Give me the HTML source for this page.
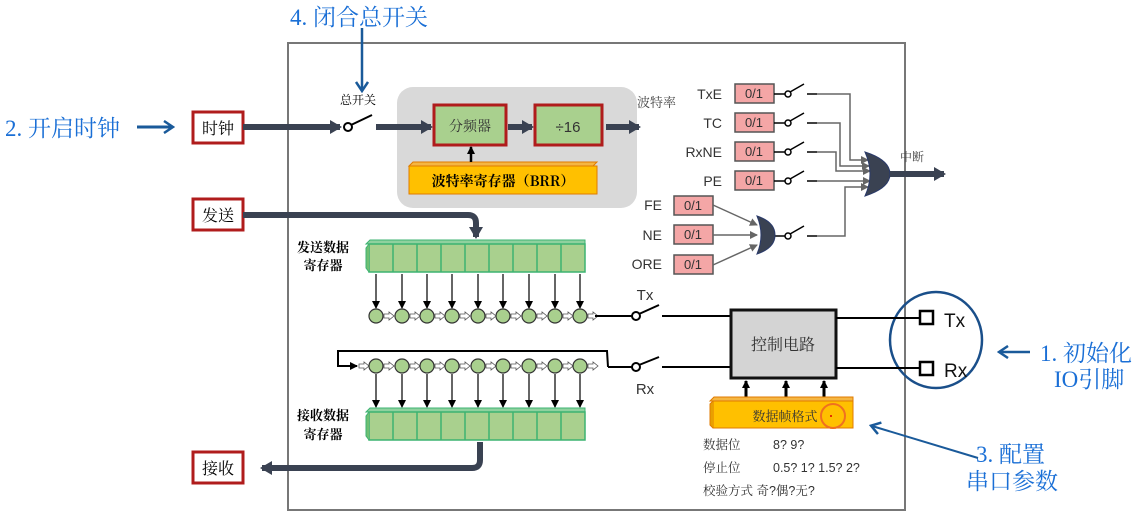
<!DOCTYPE html>
<html><head><meta charset="utf-8"><style>
body{margin:0;background:#fff}
svg{display:block}
text{font-family:"Liberation Sans","Noto Serif CJK SC","Noto Sans CJK SC",sans-serif}
.cn{font-family:"Noto Serif CJK SC","Noto Sans CJK SC",serif}
.blue{fill:#1a6fd6;font-family:"Liberation Serif","Noto Serif CJK SC",serif;font-size:23px}
</style></head><body>
<svg width="1140" height="519" viewBox="0 0 1140 519" xmlns="http://www.w3.org/2000/svg">
<defs>
<marker id="ab" markerWidth="12" markerHeight="14" refX="10" refY="7" orient="auto" markerUnits="userSpaceOnUse"><path d="M0,0 L12,7 L0,14 z" fill="#3a4252"/></marker>
<marker id="ak" markerWidth="8" markerHeight="8" refX="7" refY="4" orient="auto" markerUnits="userSpaceOnUse"><path d="M0,0 L8,4 L0,8 z" fill="#000"/></marker>
<marker id="ag" markerWidth="8" markerHeight="8" refX="7" refY="4" orient="auto" markerUnits="userSpaceOnUse"><path d="M0,0 L8,4 L0,8 z" fill="#666"/></marker>
<marker id="abl" markerWidth="12" markerHeight="14" refX="9" refY="7" orient="auto" markerUnits="userSpaceOnUse"><path d="M1,1 L10,7 L1,13" fill="none" stroke="#1a5a9a" stroke-width="2.5"/></marker>
</defs>

<rect x="288" y="43" width="617" height="467" fill="none" stroke="#777" stroke-width="2"/>

<text x="290" y="25" class="blue">4. 闭合总开关</text>
<path d="M362,28 L362,90" stroke="#1a5a9a" stroke-width="2.5" fill="none" marker-end="url(#abl)"/>
<text x="5" y="136" class="blue">2. 开启时钟</text>
<path d="M137,127 L172,127" stroke="#1a5a9a" stroke-width="3" fill="none" marker-end="url(#abl)"/>
<text x="1040" y="361" class="blue">1. 初始化</text>
<text x="1054" y="387" class="blue">IO引脚</text>
<path d="M1030,352 L1000,352" stroke="#1a5a9a" stroke-width="2.5" fill="none" marker-end="url(#abl)"/>
<ellipse cx="936" cy="340" rx="46" ry="48" fill="none" stroke="#1a4f8a" stroke-width="2.5"/>
<text x="976" y="462" class="blue">3. 配置</text>
<text x="966" y="489" class="blue">串口参数</text>
<path d="M978,458 L872,426" stroke="#1a5a9a" stroke-width="2" fill="none" marker-end="url(#abl)"/>

<rect x="193" y="112" width="50" height="31" fill="#fff" stroke="#b01c1c" stroke-width="3"/>
<text x="218" y="134" text-anchor="middle" font-size="16" class="cn">时钟</text>
<rect x="193" y="199" width="50" height="31" fill="#fff" stroke="#b01c1c" stroke-width="3"/>
<text x="218" y="221" text-anchor="middle" font-size="16" class="cn">发送</text>
<rect x="193" y="452" width="50" height="31" fill="#fff" stroke="#b01c1c" stroke-width="3"/>
<text x="218" y="474" text-anchor="middle" font-size="16" class="cn">接收</text>

<path d="M243,127 L340,127" stroke="#3a4252" stroke-width="6" fill="none" marker-end="url(#ab)"/>
<circle cx="348" cy="127" r="4" fill="#fff" stroke="#000" stroke-width="2"/>
<line x1="351" y1="125" x2="372" y2="115" stroke="#000" stroke-width="2"/>
<text x="358" y="104" text-anchor="middle" font-size="12" class="cn">总开关</text>
<rect x="397" y="87" width="240" height="121" rx="16" fill="#d9d9d9"/>
<path d="M376,127 L431,127" stroke="#3a4252" stroke-width="6" fill="none" marker-end="url(#ab)"/>
<rect x="434" y="105" width="72" height="40" fill="#a9d08e" stroke="#b01c1c" stroke-width="3"/>
<text x="470" y="131" text-anchor="middle" font-size="14" class="cn" fill="#333">分频器</text>
<path d="M508,127 L532,127" stroke="#3a4252" stroke-width="6" fill="none" marker-end="url(#ab)"/>
<rect x="535" y="105" width="67" height="40" fill="#a9d08e" stroke="#b01c1c" stroke-width="3"/>
<text x="568" y="132" text-anchor="middle" font-size="15" fill="#333">÷16</text>
<path d="M606,127 L639,127" stroke="#3a4252" stroke-width="6" fill="none" marker-end="url(#ab)"/>
<text x="637" y="107" font-size="13" class="cn" fill="#444">波特率</text>
<path d="M409,166 L413,162 L597,162 L593,166 z" fill="#f5b642" stroke="#e07b00"/>
<rect x="409" y="166" width="188" height="28" fill="#ffc000" stroke="#e07b00"/>
<text x="503" y="186" text-anchor="middle" font-size="14" font-weight="bold" class="cn">波特率寄存器（BRR）</text>
<line x1="471" y1="162" x2="471" y2="147" stroke="#000" stroke-width="2.5" marker-end="url(#ak)"/>

<path d="M243,215 L468,215 Q476,215 476,223 L476,237" stroke="#3a4252" stroke-width="6" fill="none" marker-end="url(#ab)"/>
<text x="323" y="252" text-anchor="middle" font-size="13" font-weight="bold" class="cn">发送数据</text>
<text x="323" y="270" text-anchor="middle" font-size="13" font-weight="bold" class="cn">寄存器</text>
<path d="M366,244 L370,240 L585,240 L585,244 z" fill="#8fd19e" stroke="#3cb371"/>
<rect x="369" y="244" width="216" height="28" fill="#a9d08e" stroke="#3cb371" stroke-width="1.5"/>
<path d="M369,244 L366,248 L366,268 L369,272" fill="#6fbf73" stroke="#3cb371"/>
<g stroke="#3cb371" stroke-width="1.5">
<line x1="393" y1="244" x2="393" y2="272"/><line x1="417" y1="244" x2="417" y2="272"/><line x1="441" y1="244" x2="441" y2="272"/><line x1="465" y1="244" x2="465" y2="272"/><line x1="489" y1="244" x2="489" y2="272"/><line x1="513" y1="244" x2="513" y2="272"/><line x1="537" y1="244" x2="537" y2="272"/><line x1="561" y1="244" x2="561" y2="272"/>
</g>
<g stroke="#000" stroke-width="1.2" marker-end="url(#ak)">
<line x1="376" y1="274" x2="376" y2="308"/><line x1="402" y1="274" x2="402" y2="308"/><line x1="427" y1="274" x2="427" y2="308"/><line x1="452" y1="274" x2="452" y2="308"/><line x1="478" y1="274" x2="478" y2="308"/><line x1="503" y1="274" x2="503" y2="308"/><line x1="529" y1="274" x2="529" y2="308"/><line x1="555" y1="274" x2="555" y2="308"/><line x1="580" y1="274" x2="580" y2="308"/>
</g>
<g fill="#a9d08e" stroke="#333" stroke-width="1.2">
<circle cx="376" cy="316" r="7"/><circle cx="402" cy="316" r="7"/><circle cx="427" cy="316" r="7"/><circle cx="452" cy="316" r="7"/><circle cx="478" cy="316" r="7"/><circle cx="503" cy="316" r="7"/><circle cx="529" cy="316" r="7"/><circle cx="555" cy="316" r="7"/><circle cx="580" cy="316" r="7"/>
</g>
<g fill="#fff" stroke="#555" stroke-width="0.8">
<path d="M384,314 h5 v-2 l5,4 l-5,4 v-2 h-5z"/><path d="M410,314 h5 v-2 l5,4 l-5,4 v-2 h-5z"/><path d="M435,314 h5 v-2 l5,4 l-5,4 v-2 h-5z"/><path d="M460,314 h5 v-2 l5,4 l-5,4 v-2 h-5z"/><path d="M486,314 h5 v-2 l5,4 l-5,4 v-2 h-5z"/><path d="M511,314 h5 v-2 l5,4 l-5,4 v-2 h-5z"/><path d="M537,314 h5 v-2 l5,4 l-5,4 v-2 h-5z"/><path d="M563,314 h5 v-2 l5,4 l-5,4 v-2 h-5z"/><path d="M588,314 h5 v-2 l5,4 l-5,4 v-2 h-5z"/>
</g>
<line x1="595" y1="316" x2="632" y2="316" stroke="#000" stroke-width="2"/>
<circle cx="636" cy="316" r="4" fill="#fff" stroke="#000" stroke-width="2"/>
<line x1="639" y1="314" x2="659" y2="305" stroke="#000" stroke-width="2"/>
<line x1="662" y1="316" x2="730" y2="316" stroke="#000" stroke-width="2"/>
<text x="645" y="300" text-anchor="middle" font-size="15" fill="#333">Tx</text>

<path d="M608,367 L607,351 L338,351 L338,366 L357,366" stroke="#000" stroke-width="2" fill="none" marker-end="url(#ak)"/>
<line x1="608" y1="367" x2="632" y2="367" stroke="#000" stroke-width="2"/>
<circle cx="636" cy="367" r="4" fill="#fff" stroke="#000" stroke-width="2"/>
<line x1="639" y1="365" x2="659" y2="357" stroke="#000" stroke-width="2"/>
<line x1="662" y1="367" x2="730" y2="367" stroke="#000" stroke-width="2"/>
<text x="645" y="394" text-anchor="middle" font-size="15" fill="#333">Rx</text>
<g fill="#fff" stroke="#555" stroke-width="0.8">
<path d="M359,364 h5 v-2 l5,4 l-5,4 v-2 h-5z"/><path d="M384,364 h5 v-2 l5,4 l-5,4 v-2 h-5z"/><path d="M410,364 h5 v-2 l5,4 l-5,4 v-2 h-5z"/><path d="M435,364 h5 v-2 l5,4 l-5,4 v-2 h-5z"/><path d="M460,364 h5 v-2 l5,4 l-5,4 v-2 h-5z"/><path d="M486,364 h5 v-2 l5,4 l-5,4 v-2 h-5z"/><path d="M511,364 h5 v-2 l5,4 l-5,4 v-2 h-5z"/><path d="M537,364 h5 v-2 l5,4 l-5,4 v-2 h-5z"/><path d="M563,364 h5 v-2 l5,4 l-5,4 v-2 h-5z"/><path d="M588,364 h5 v-2 l5,4 l-5,4 v-2 h-5z"/>
</g>
<g fill="#a9d08e" stroke="#333" stroke-width="1.2">
<circle cx="376" cy="366" r="7"/><circle cx="402" cy="366" r="7"/><circle cx="427" cy="366" r="7"/><circle cx="452" cy="366" r="7"/><circle cx="478" cy="366" r="7"/><circle cx="503" cy="366" r="7"/><circle cx="529" cy="366" r="7"/><circle cx="555" cy="366" r="7"/><circle cx="580" cy="366" r="7"/>
</g>
<g stroke="#000" stroke-width="1.2" marker-end="url(#ak)">
<line x1="376" y1="374" x2="376" y2="407"/><line x1="402" y1="374" x2="402" y2="407"/><line x1="427" y1="374" x2="427" y2="407"/><line x1="452" y1="374" x2="452" y2="407"/><line x1="478" y1="374" x2="478" y2="407"/><line x1="503" y1="374" x2="503" y2="407"/><line x1="529" y1="374" x2="529" y2="407"/><line x1="555" y1="374" x2="555" y2="407"/><line x1="580" y1="374" x2="580" y2="407"/>
</g>
<path d="M366,412 L370,408 L585,408 L585,412 z" fill="#8fd19e" stroke="#3cb371"/>
<rect x="369" y="412" width="216" height="28" fill="#a9d08e" stroke="#3cb371" stroke-width="1.5"/>
<path d="M369,412 L366,416 L366,436 L369,440" fill="#6fbf73" stroke="#3cb371"/>
<g stroke="#3cb371" stroke-width="1.5">
<line x1="393" y1="412" x2="393" y2="440"/><line x1="417" y1="412" x2="417" y2="440"/><line x1="441" y1="412" x2="441" y2="440"/><line x1="465" y1="412" x2="465" y2="440"/><line x1="489" y1="412" x2="489" y2="440"/><line x1="513" y1="412" x2="513" y2="440"/><line x1="537" y1="412" x2="537" y2="440"/><line x1="561" y1="412" x2="561" y2="440"/>
</g>
<text x="323" y="420" text-anchor="middle" font-size="13" font-weight="bold" class="cn">接收数据</text>
<text x="323" y="439" text-anchor="middle" font-size="13" font-weight="bold" class="cn">寄存器</text>
<path d="M480,442 L480,460 Q480,468 472,468 L262,468" stroke="#3a4252" stroke-width="6" fill="none" marker-end="url(#ab)"/>

<rect x="731" y="310" width="105" height="68" fill="#d4d4d4" stroke="#111" stroke-width="3"/>
<text x="783" y="350" text-anchor="middle" font-size="16" class="cn" fill="#333">控制电路</text>
<line x1="836" y1="318" x2="920" y2="318" stroke="#000" stroke-width="2"/>
<line x1="836" y1="368" x2="920" y2="368" stroke="#000" stroke-width="2"/>
<rect x="920" y="311" width="13" height="13" fill="#fff" stroke="#000" stroke-width="2.5"/>
<rect x="920" y="362" width="13" height="13" fill="#fff" stroke="#000" stroke-width="2.5"/>
<text x="944" y="327" font-size="19" fill="#111">Tx</text>
<text x="944" y="377" font-size="19" fill="#111">Rx</text>
<g stroke="#000" stroke-width="3" marker-end="url(#ak)">
<line x1="746" y1="397" x2="746" y2="381"/><line x1="786" y1="397" x2="786" y2="381"/><line x1="824" y1="397" x2="824" y2="381"/>
</g>
<path d="M710,401 L714,397 L853,397 L853,401 z" fill="#f5b642" stroke="#e07b00"/>
<rect x="713" y="401" width="140" height="27" fill="#ffc000" stroke="#e07b00"/>
<path d="M713,401 L710,404 L710,425 L713,428" fill="#e8a000" stroke="#e07b00"/>
<text x="785" y="421" text-anchor="middle" font-size="13" class="cn" fill="#333">数据帧格式</text>
<circle cx="833" cy="416" r="12" fill="none" stroke="#f07020" stroke-width="2"/>
<circle cx="831" cy="416" r="1" fill="#d00"/>
<g font-size="12.5" class="cn" fill="#333">
<text x="703" y="449">数据位</text><text x="773" y="449">8? 9?</text>
<text x="703" y="472">停止位</text><text x="773" y="472">0.5? 1? 1.5? 2?</text>
<text x="703" y="495">校验方式 奇?偶?无?</text>
</g>

<g font-size="14" fill="#333" text-anchor="end">
<text x="722" y="99">TxE</text><text x="722" y="128">TC</text><text x="722" y="157">RxNE</text><text x="722" y="186">PE</text>
<text x="662" y="210">FE</text><text x="662" y="240">NE</text><text x="662" y="269">ORE</text>
</g>
<g fill="#f4a6a6" stroke="#555" stroke-width="1.5">
<rect x="735" y="84" width="39" height="19"/><rect x="735" y="113" width="39" height="19"/><rect x="735" y="142" width="39" height="19"/><rect x="735" y="171" width="39" height="19"/>
<rect x="674" y="196" width="39" height="19"/><rect x="674" y="225" width="39" height="19"/><rect x="674" y="255" width="39" height="19"/>
</g>
<g font-family="Liberation Mono,monospace" font-size="13" fill="#333" text-anchor="middle">
<text x="754" y="98">0/1</text><text x="754" y="127">0/1</text><text x="754" y="156">0/1</text><text x="754" y="185">0/1</text>
<text x="693" y="210">0/1</text><text x="693" y="239">0/1</text><text x="693" y="269">0/1</text>
</g>
<g stroke="#000" stroke-width="1.5" fill="#fff">
<line x1="774" y1="94" x2="785" y2="94"/><circle cx="788" cy="94" r="3"/><line x1="790" y1="92" x2="804" y2="84"/><line x1="807" y1="94" x2="817" y2="94"/>
<line x1="774" y1="123" x2="785" y2="123"/><circle cx="788" cy="123" r="3"/><line x1="790" y1="121" x2="804" y2="113"/><line x1="807" y1="123" x2="817" y2="123"/>
<line x1="774" y1="152" x2="785" y2="152"/><circle cx="788" cy="152" r="3"/><line x1="790" y1="150" x2="804" y2="142"/><line x1="807" y1="152" x2="817" y2="152"/>
<line x1="774" y1="181" x2="785" y2="181"/><circle cx="788" cy="181" r="3"/><line x1="790" y1="179" x2="804" y2="171"/><line x1="807" y1="181" x2="817" y2="181"/>
<line x1="773" y1="236" x2="785" y2="236"/><circle cx="788" cy="236" r="3"/><line x1="790" y1="234" x2="804" y2="226"/><line x1="807" y1="236" x2="817" y2="236"/>
</g>
<g stroke="#666" stroke-width="1.5" fill="none" marker-end="url(#ag)">
<path d="M817,94 L850,94 L850,160 L868,160"/>
<path d="M817,123 L840,123 L840,166 L869,166"/>
<path d="M817,152 L836,152 L836,171 L870,171"/>
<path d="M817,181 L870,181"/>
<path d="M817,236 L845,236 L845,187 L868,187"/>
<path d="M713,205 L757,225"/>
<path d="M713,235 L757,235"/>
<path d="M713,265 L757,245"/>
</g>
<path d="M865,152 Q890,160 890,174 Q890,188 865,196 Q875,174 865,152 z" fill="#3a4252" stroke="#2a3a6a"/>
<path d="M757,216 Q775,222 775,235 Q775,248 757,254 Q765,235 757,216 z" fill="#3a4252" stroke="#2a3a6a"/>
<path d="M890,174 L944,174" stroke="#3a4252" stroke-width="6" fill="none" marker-end="url(#ab)"/>
<text x="900" y="161" font-size="12" class="cn" fill="#444">中断</text>
</svg>
</body></html>
